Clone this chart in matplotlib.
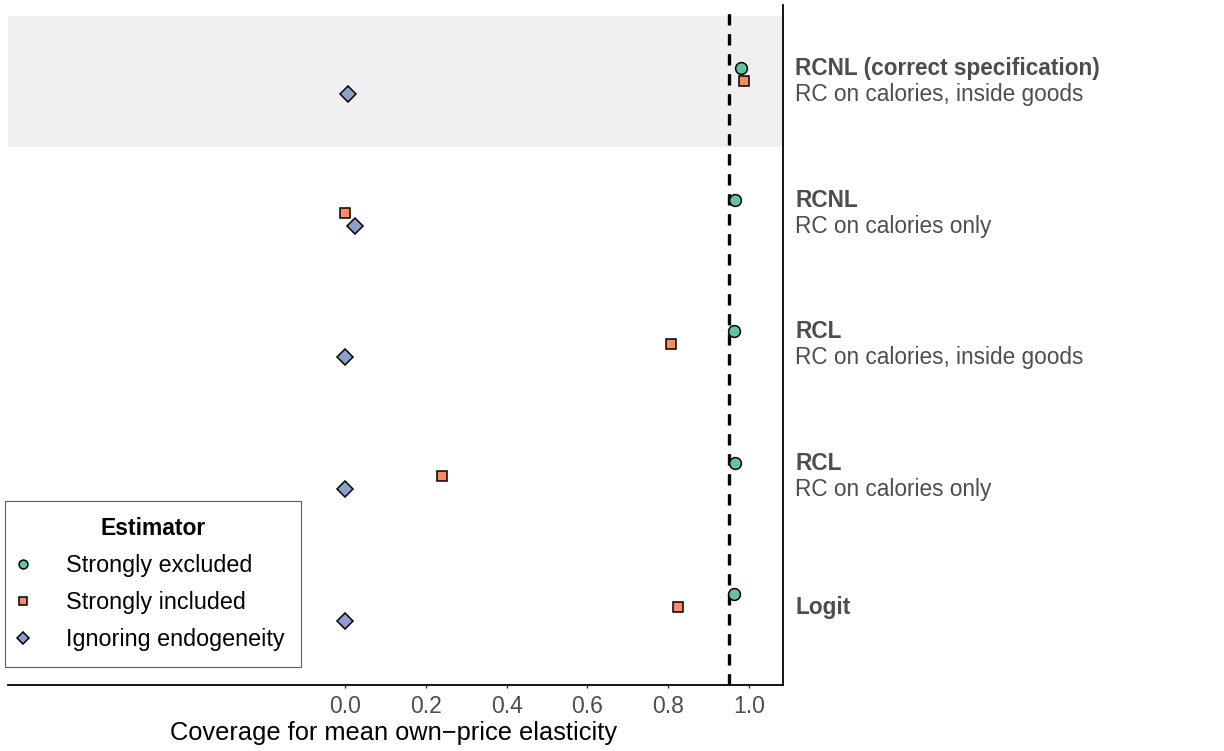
import numpy as np
import matplotlib
matplotlib.use("Agg")
import matplotlib.pyplot as plt
from matplotlib.transforms import blended_transform_factory

plt.rcParams['font.family'] = ['Liberation Sans', 'DejaVu Sans']

# Specifications, bottom to top
spec_bold = ['Logit', 'RCL', 'RCL', 'RCNL', 'RCNL (correct specification)']
spec_sub = ['', 'RC on calories only', 'RC on calories, inside goods',
            'RC on calories only', 'RC on calories, inside goods']

estimators = ['Strongly excluded', 'Strongly included', 'Ignoring endogeneity']
excluded = [0.963, 0.965, 0.963, 0.965, 0.980]
included = [0.823, 0.241, 0.806, 0.000, 0.987]
ignoring = [0.000, 0.000, 0.000, 0.025, 0.007]

nominal = 0.95
xticks = [0.0, 0.2, 0.4, 0.6, 0.8, 1.0]

colors = ['#66c2a5', '#fc8d62', '#8da0cb']
markers = ['o', 's', 'D']
offsets = [0.1, 0.0, -0.1]
msizes = [8.5, 7.5, 8]

fig = plt.figure(figsize=(12.24, 7.51), dpi=100)
ax = fig.add_axes([8 / 1224, 1 - 685 / 751, 775 / 1224, 680 / 751])

y = np.arange(len(spec_bold))
# highlight the correct specification
ax.axhspan(4 - 0.5, 4 + 0.5, color='#f0f0f0', zorder=0, lw=0)

ax.axvline(nominal, color='black', ls=(0, (3.4, 2.6)), lw=2.4, zorder=1)

for vals, name, c, m, off, ms in zip([excluded, included, ignoring], estimators,
                                     colors, markers, offsets, msizes):
    ax.plot(vals, y + off, ls='none', marker=m, ms=ms, mfc=c, mec='black',
            mew=1.1, label=name, zorder=3)

ax.set_xlim(-0.834, 1.084)
ax.set_ylim(-0.59, 4.58)
ax.set_yticks([])
ax.set_xticks(xticks)
ax.set_xticklabels([f'{t:.1f}' for t in xticks])
ax.tick_params(axis='x', length=2.5, width=1, color='#333333', pad=5,
               labelsize=16.5, labelcolor='#4d4d4d')
ax.set_xlabel('Coverage for mean own\u2212price elasticity', fontsize=18.3)
ax.xaxis.set_label_coords(386 / 775, -0.053)

for s in ['top', 'left']:
    ax.spines[s].set_visible(False)
for s in ['bottom', 'right']:
    ax.spines[s].set_linewidth(1.3)
    ax.spines[s].set_color('black')

trans = blended_transform_factory(ax.transAxes, ax.transData)
for yi, b, s in zip(y, spec_bold, spec_sub):
    if s:
        ax.text(1.0155, yi + 0.045, b, transform=trans, fontsize=16.3,
                fontweight='bold', color='#4d4d4d', va='baseline', ha='left')
        ax.text(1.0155, yi - 0.150, s, transform=trans, fontsize=16.3,
                color='#4d4d4d', va='baseline', ha='left')
    else:
        ax.text(1.0155, yi, b, transform=trans, fontsize=16.3,
                fontweight='bold', color='#4d4d4d', va='center', ha='left')

leg = ax.legend(loc='lower left', bbox_to_anchor=(5 / 1224, 1 - 667 / 751),
                bbox_transform=fig.transFigure, title='Estimator',
                fontsize=16.8,
                title_fontproperties={'weight': 'bold', 'size': 16.5},
                frameon=True, fancybox=False, markerscale=0.75,
                handletextpad=1.79, labelspacing=0.60, borderpad=0.68,
                handlelength=0.15, borderaxespad=0)
leg.get_frame().set_edgecolor('#333333')
leg.get_frame().set_linewidth(0.8)
leg._legend_box.sep = 10

fig.savefig('out.png', dpi=100)
